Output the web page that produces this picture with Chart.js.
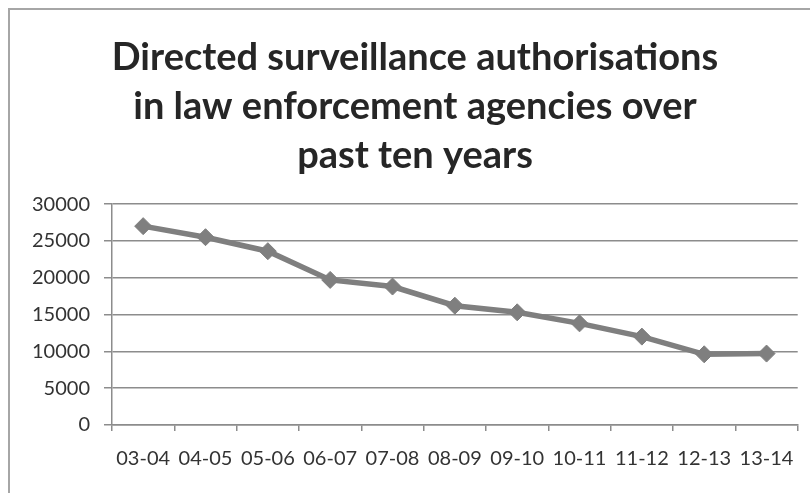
<!DOCTYPE html>
<html>
<head>
<meta charset="utf-8">
<script src="https://cdn.jsdelivr.net/npm/chart.js@4"></script>
<style>
  html, body { margin: 0; padding: 0; background: #fff; }
  #wrap { width: 810px; height: 493px; position: relative; }
</style>
</head>
<body>
<div id="wrap"><canvas id="line-chart" width="810" height="493"></canvas></div>
<script>
// datos del grafico
const years = ['03-04','04-05','05-06','06-07','07-08','08-09','09-10','10-11','11-12','12-13','13-14'];
const authorisations = [27000, 25500, 23600, 19700, 18800, 16200, 15300, 13800, 12000, 9600, 9700];
const yTicks = [0, 5000, 10000, 15000, 20000, 25000, 30000];
const titleLines = ['Directed surveillance authorisations', 'in law enforcement agencies over', 'past ten years'];

// marco del grafico (solo lado izquierdo y superior visibles)
const frame = {
  id: 'frame',
  beforeDraw(chart) {
    const c = chart.ctx;
    c.save();
    c.fillStyle = '#fff';
    c.fillRect(0, 0, chart.width, chart.height);
    c.strokeStyle = '#a6a6a6';
    c.lineWidth = 2;
    c.beginPath();
    c.moveTo(9, chart.height + 5);
    c.lineTo(9, 9);
    c.lineTo(chart.width + 5, 9);
    c.stroke();
    c.restore();
  }
};

const ctxLine = document.querySelector('#line-chart').getContext('2d');

const lineChart = new Chart(ctxLine, {
  type: 'line',
  data: {
    labels: years,
    datasets: [{
      label: 'Authorisations',
      data: authorisations,
      borderColor: '#7f7f7f',
      backgroundColor: '#7f7f7f',
      borderWidth: 5.5,
      pointStyle: 'rectRot',
      pointRadius: 8.5,
      pointBorderWidth: 1,
      tension: 0,
    }]
  },
  options: {
    responsive: false,
    animation: false,
    devicePixelRatio: 1,
    layout: { padding: { left: 32, right: 12, top: 0, bottom: 0 } },
    plugins: {
      legend: { display: false },
      tooltip: { enabled: false },
      title: {
        display: true,
        text: titleLines,
        color: '#262626',
        font: { family: 'Lato', size: 38, weight: 'bold', lineHeight: 1.29 },
        padding: { top: 33, bottom: 24 },
      }
    },
    scales: {
      x: {
        offset: true,
        grid: {
          offset: true,
          drawOnChartArea: false,
          color: '#8c8c8c',
          lineWidth: 1.5,
          tickLength: 6,
        },
        border: { color: '#8c8c8c', width: 1.5 },
        ticks: {
          color: '#333',
          font: { family: 'Lato', size: 20 },
          padding: 16,
          maxRotation: 0,
          autoSkip: false,
        },
        afterFit(scale) { scale.height = 68; }
      },
      y: {
        min: 0,
        max: 30000,
        afterBuildTicks(scale) { scale.ticks = yTicks.map(v => ({ value: v })); },
        grid: {
          color: '#8c8c8c',
          lineWidth: 1.5,
          tickLength: 8,
        },
        border: { color: '#8c8c8c', width: 1.5 },
        ticks: {
          color: '#333',
          font: { family: 'Lato', size: 20 },
          padding: 14,
          callback: v => String(v),
        },
        afterFit(scale) { scale.width = 80; }
      }
    }
  },
  plugins: [frame]
});
</script>
</body>
</html>
